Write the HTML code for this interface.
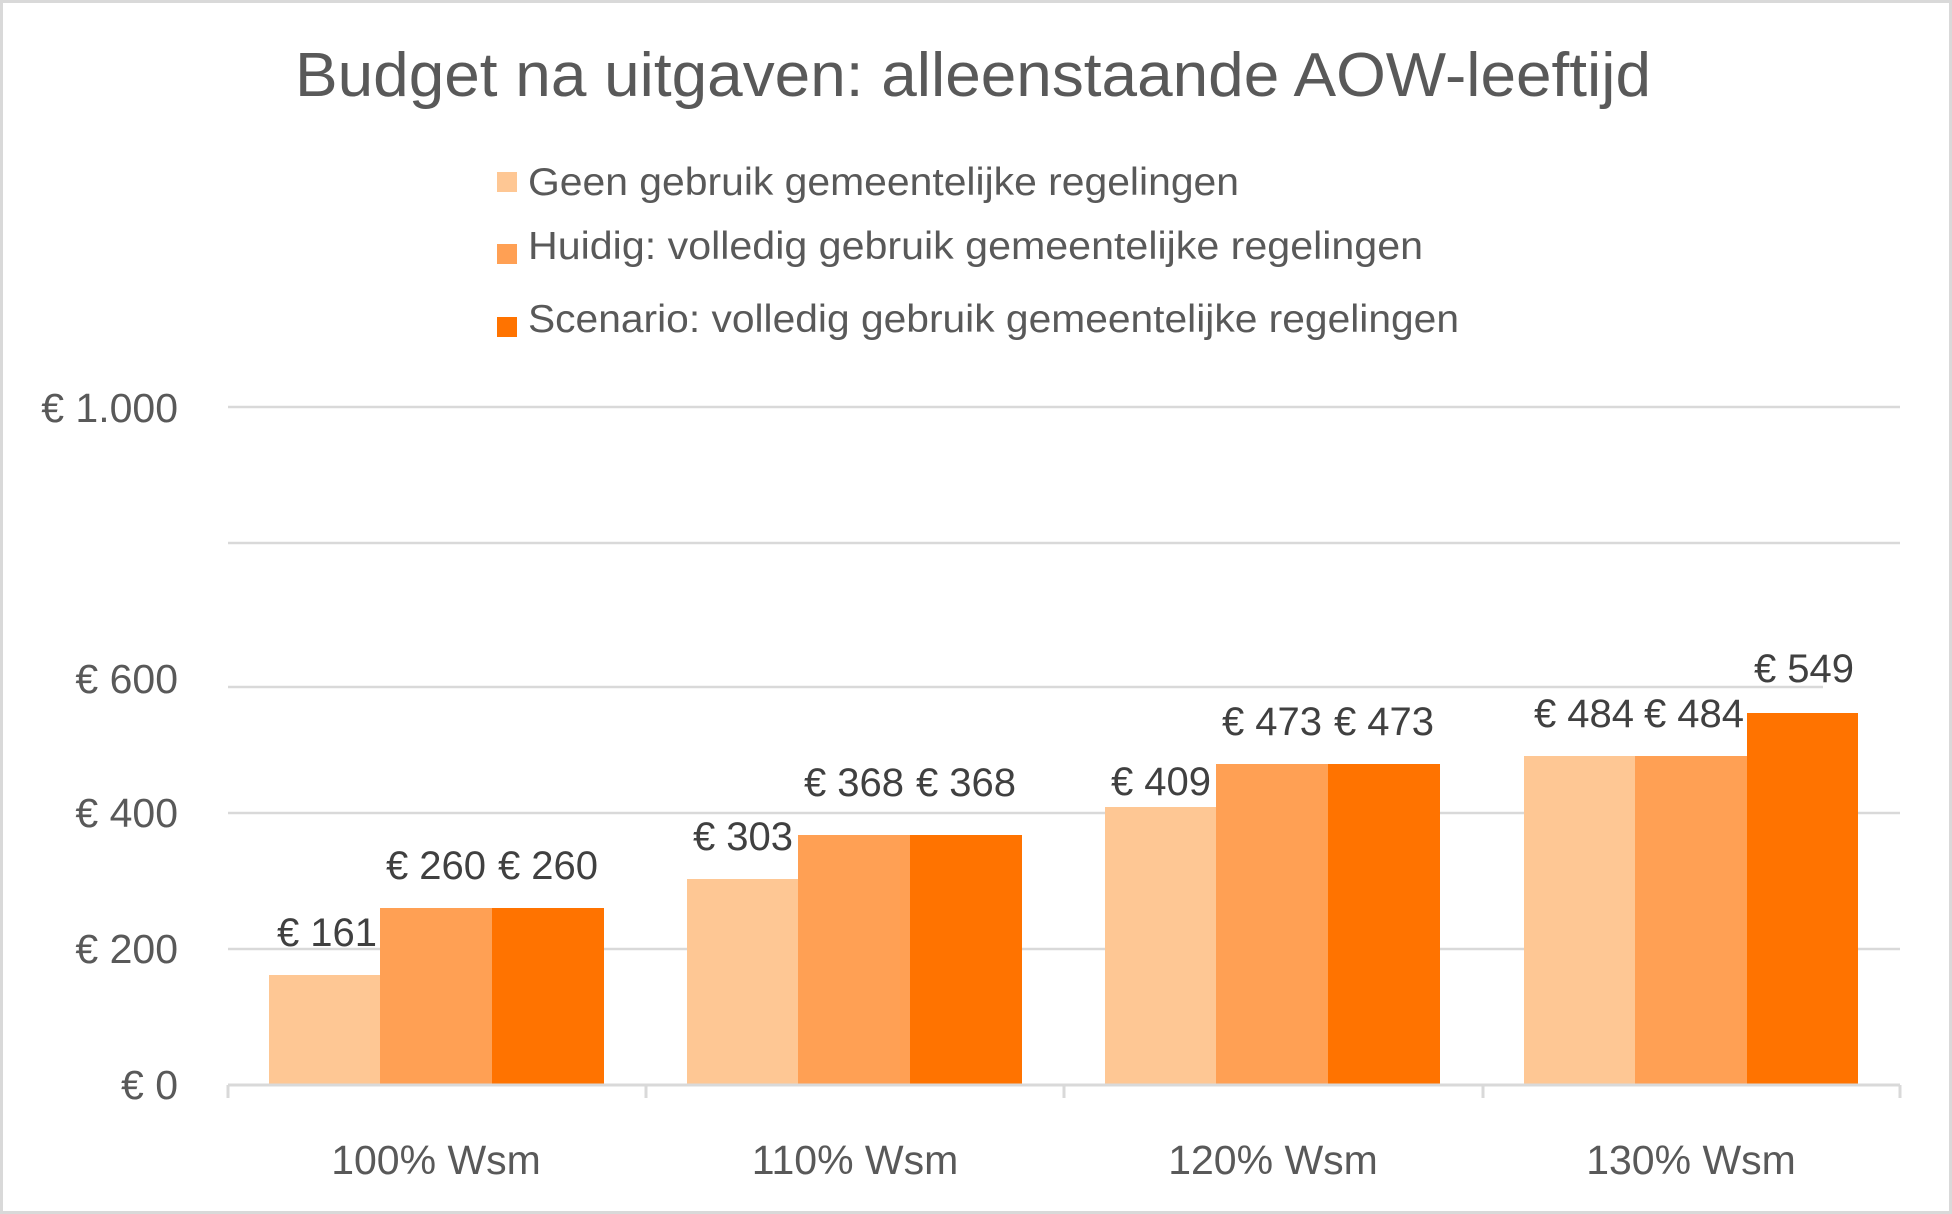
<!DOCTYPE html>
<html><head><meta charset="utf-8"><style>
html,body{margin:0;padding:0;background:#fff}
svg{display:block}
text{font-family:"Liberation Sans",Arial,sans-serif}
</style></head><body>
<svg width="1952" height="1214" viewBox="0 0 1952 1214" xmlns="http://www.w3.org/2000/svg">
<rect x="1.5" y="1.5" width="1949" height="1211" fill="#fff" stroke="#d9d9d9" stroke-width="3"/>
<text x="973" y="96" font-size="62" fill="#595959" text-anchor="middle" textLength="1356" lengthAdjust="spacingAndGlyphs">Budget na uitgaven: alleenstaande AOW-leeftijd</text>
<g font-size="39" fill="#595959">
<rect x="497" y="172" width="20" height="20" fill="#FEC794"/>
<text x="528" y="195" textLength="711" lengthAdjust="spacingAndGlyphs">Geen gebruik gemeentelijke regelingen</text>
<rect x="497" y="244" width="20" height="20" fill="#FFA054"/>
<text x="528" y="259" textLength="895" lengthAdjust="spacingAndGlyphs">Huidig: volledig gebruik gemeentelijke regelingen</text>
<rect x="497" y="317" width="20" height="20" fill="#FF7300"/>
<text x="528" y="332" textLength="931" lengthAdjust="spacingAndGlyphs">Scenario: volledig gebruik gemeentelijke regelingen</text>
</g>
<g stroke="#d9d9d9" stroke-width="2.5">
<line x1="228" y1="407" x2="1900" y2="407"/>
<line x1="228" y1="543" x2="1900" y2="543"/>
<line x1="228" y1="687" x2="1823" y2="687"/>
<line x1="228" y1="813" x2="1900" y2="813"/>
<line x1="228" y1="949" x2="1900" y2="949"/>
</g>
<g font-size="41" fill="#595959" text-anchor="end">
<text x="178" y="422">€ 1.000</text>
<text x="178" y="693">€ 600</text>
<text x="178" y="827">€ 400</text>
<text x="178" y="963">€ 200</text>
<text x="178" y="1099">€ 0</text>
</g>
<g>
<rect x="269" y="975" width="111" height="109" fill="#FEC794"/>
<rect x="380" y="908" width="112" height="176" fill="#FFA054"/>
<rect x="492" y="908" width="112" height="176" fill="#FF7300"/>
<rect x="687" y="879" width="111" height="205" fill="#FEC794"/>
<rect x="798" y="835" width="112" height="249" fill="#FFA054"/>
<rect x="910" y="835" width="112" height="249" fill="#FF7300"/>
<rect x="1105" y="807" width="111" height="277" fill="#FEC794"/>
<rect x="1216" y="764" width="112" height="320" fill="#FFA054"/>
<rect x="1328" y="764" width="112" height="320" fill="#FF7300"/>
<rect x="1524" y="756" width="111" height="328" fill="#FEC794"/>
<rect x="1635" y="756" width="112" height="328" fill="#FFA054"/>
<rect x="1747" y="713" width="111" height="371" fill="#FF7300"/>
</g>
<g stroke="#d9d9d9" stroke-width="3">
<line x1="228" y1="1085" x2="1900" y2="1085"/>
<line x1="228" y1="1085" x2="228" y2="1098"/>
<line x1="646" y1="1085" x2="646" y2="1098"/>
<line x1="1064" y1="1085" x2="1064" y2="1098"/>
<line x1="1483" y1="1085" x2="1483" y2="1098"/>
<line x1="1900" y1="1085" x2="1900" y2="1098"/>
</g>
<g font-size="40" fill="#404040" text-anchor="middle">
<text x="327" y="946">€ 161</text>
<text x="436" y="879">€ 260</text>
<text x="548" y="879">€ 260</text>
<text x="743" y="850">€ 303</text>
<text x="854" y="796">€ 368</text>
<text x="966" y="796">€ 368</text>
<text x="1161" y="795">€ 409</text>
<text x="1272" y="735">€ 473</text>
<text x="1384" y="735">€ 473</text>
<text x="1584" y="727">€ 484</text>
<text x="1694" y="727">€ 484</text>
<text x="1804" y="682">€ 549</text>
</g>
<g font-size="41" fill="#595959" text-anchor="middle">
<text x="436" y="1174">100% Wsm</text>
<text x="855" y="1174">110% Wsm</text>
<text x="1273" y="1174">120% Wsm</text>
<text x="1691" y="1174">130% Wsm</text>
</g>
</svg>
</body></html>
